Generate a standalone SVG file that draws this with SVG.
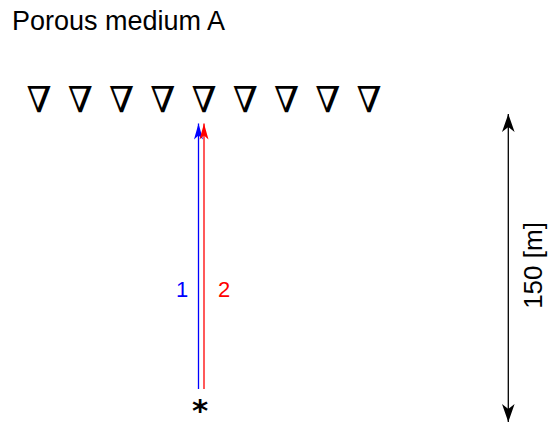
<svg xmlns="http://www.w3.org/2000/svg" width="549" height="423" viewBox="0 0 549 423">
<defs>
<style>
.t{font-family:"Liberation Sans",Arial,sans-serif}
.nab{font-family:"DejaVu Serif",serif;font-size:36px;text-anchor:middle;fill:#000}
</style>
<marker id="ab" markerUnits="userSpaceOnUse" markerWidth="20" markerHeight="12" viewBox="-17 -6 18 12" refX="0" refY="0" orient="auto"><path d="M0,0 L-16,-4.5 L-12,0 L-16,4.5 Z" fill="#0000ff"/></marker>
<marker id="ar" markerUnits="userSpaceOnUse" markerWidth="20" markerHeight="12" viewBox="-17 -6 18 12" refX="0" refY="0" orient="auto"><path d="M0,0 L-16,-4.5 L-12,0 L-16,4.5 Z" fill="#ff0000"/></marker>
<marker id="ak" markerUnits="userSpaceOnUse" markerWidth="22" markerHeight="16" viewBox="-19 -8 20 16" refX="0" refY="0" orient="auto"><path d="M0,0 L-18,-6.3 L-13,0 L-18,6.3 Z" fill="#000"/></marker>
</defs>
<rect width="549" height="423" fill="#fff"/>
<g id="title"><text class="t" x="12" y="30" font-size="27">Porous medium A</text></g>
<g id="receivers">
<text class="nab" x="39" y="112">∇</text>
<text class="nab" x="80.25" y="112">∇</text>
<text class="nab" x="121.5" y="112">∇</text>
<text class="nab" x="162.75" y="112">∇</text>
<text class="nab" x="204" y="112">∇</text>
<text class="nab" x="245.25" y="112">∇</text>
<text class="nab" x="286.5" y="112">∇</text>
<text class="nab" x="327.75" y="112">∇</text>
<text class="nab" x="369" y="112">∇</text>
</g>
<g id="source"><text x="200" y="421" font-family="DejaVu Sans, sans-serif" font-weight="bold" font-size="31" text-anchor="middle">*</text></g>
<g id="connectors" fill="none" stroke-width="1.3">
<line x1="198.5" y1="389" x2="198.5" y2="123.5" stroke="#0000ff" marker-end="url(#ab)"/>
<line x1="204" y1="389" x2="204" y2="123.5" stroke="#ff0000" marker-end="url(#ar)"/>
<line x1="508.3" y1="268" x2="508.3" y2="114" stroke="#000" marker-end="url(#ak)"/>
<line x1="508.3" y1="268" x2="508.3" y2="422" stroke="#000" marker-end="url(#ak)"/>
</g>
<g id="labels">
<text class="t" x="182" y="296.7" font-size="22" fill="#0000ff" text-anchor="middle">1</text>
<text class="t" x="224" y="296.7" font-size="22" fill="#ff0000" text-anchor="middle">2</text>
<text class="t" font-size="26" text-anchor="middle" transform="translate(542 265.5) rotate(-90)">150 [m]</text>
</g>
</svg>
